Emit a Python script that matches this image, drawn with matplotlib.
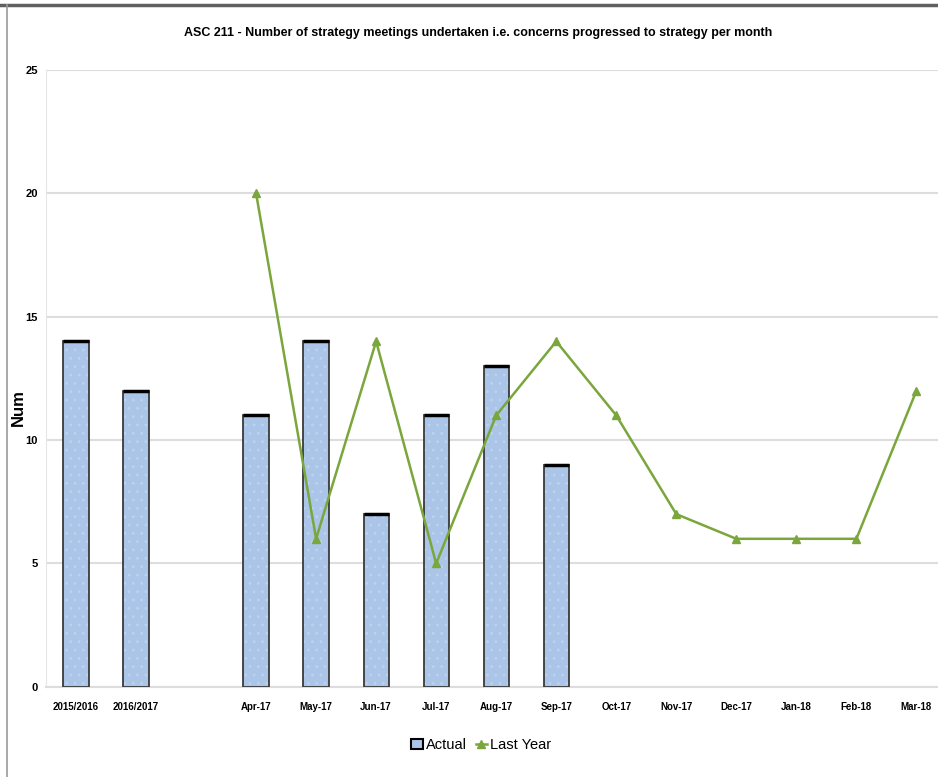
import numpy as np
import matplotlib.pyplot as plt
from matplotlib.lines import Line2D
from matplotlib.patches import Patch

plt.rcParams['font.family'] = ['Liberation Sans Narrow', 'Liberation Sans', 'DejaVu Sans']
plt.rcParams['hatch.linewidth'] = 0.8

categories = ['2015/2016', '2016/2017', '', 'Apr-17', 'May-17', 'Jun-17', 'Jul-17',
              'Aug-17', 'Sep-17', 'Oct-17', 'Nov-17', 'Dec-17', 'Jan-18', 'Feb-18', 'Mar-18']
actual = [14, 12, None, 11, 14, 7, 11, 13, 9, None, None, None, None, None, None]
last_year = [None, None, None, 20, 6, 14, 5, 11, 14, 11, 7, 6, 6, 6, 12]
yticks = [0, 5, 10, 15, 20, 25]

title = 'ASC 211 - Number of strategy meetings undertaken i.e. concerns progressed to strategy per month'

fig = plt.figure(figsize=(9.38, 7.77), dpi=100)
ax = fig.add_axes([0.049, 0.116, 0.96, 0.794])

x = np.arange(len(categories))
bar_fill = '#aac5e8'
green = '#7aa63c'

# bars for actual values: light textured fill, dark outline, black cap on top
for xi, v in zip(x, actual):
    if v is None:
        continue
    ax.bar(xi, v, width=0.42, color=bar_fill, edgecolor='#bed2ee', linewidth=0,
           hatch='..', zorder=3)
    ax.bar(xi, v, width=0.42, fill=False, edgecolor='#3a3a3a', linewidth=1.3, zorder=3)
    ax.plot([xi - 0.21, xi + 0.21], [v, v], color='black', lw=2.5,
            solid_capstyle='butt', zorder=4)

lx = [xi for xi, v in zip(x, last_year) if v is not None]
ly = [v for v in last_year if v is not None]
ax.plot(lx, ly, color=green, lw=1.8, marker='^', markersize=6,
        markerfacecolor=green, markeredgecolor=green, zorder=5)

ax.set_xlim(-0.5, len(categories) - 0.5)
ax.set_ylim(0, 25)
ax.set_yticks(yticks)
ax.set_yticklabels([str(t) for t in yticks], fontsize=8, fontweight='bold')
ax.set_xticks(x)
ax.set_xticklabels(categories, fontsize=7, fontweight='bold')
ax.tick_params(length=0, pad=11)
ax.tick_params(axis='y', pad=6)
ax.grid(axis='y', color='#dddddd', lw=1.5, zorder=0)
for s in ['top', 'right']:
    ax.spines[s].set_visible(False)
ax.spines['left'].set_color('#e6e6e6')
ax.spines['bottom'].set_color('#dddddd')
ax.spines['bottom'].set_linewidth(1.5)

fig.text(0.02, 0.475, 'Num', rotation=90, ha='center', va='center',
         fontsize=12, fontweight='bold')
fig.text(0.510, 0.957, title, ha='center', va='center', fontsize=9, fontweight='bold')

handles = [Patch(facecolor=bar_fill, edgecolor='black', linewidth=1.5),
           Line2D([], [], color=green, marker='^', lw=1.8, markersize=6)]
fig.legend(handles, ['Actual', 'Last Year'], loc='center', bbox_to_anchor=(0.513, 0.041),
           ncol=2, frameon=False, fontsize=10.5, handlelength=0.8, handletextpad=0.2,
           columnspacing=0.6)

# outer frame lines
fig.add_artist(Line2D([0.0, 1.0], [0.994, 0.994], color='#606060', lw=2.5, transform=fig.transFigure))
fig.add_artist(Line2D([0.0075, 0.0075], [0.0, 0.994], color='#9a9a9a', lw=1.2, transform=fig.transFigure))

fig.savefig('out.png', dpi=100)
